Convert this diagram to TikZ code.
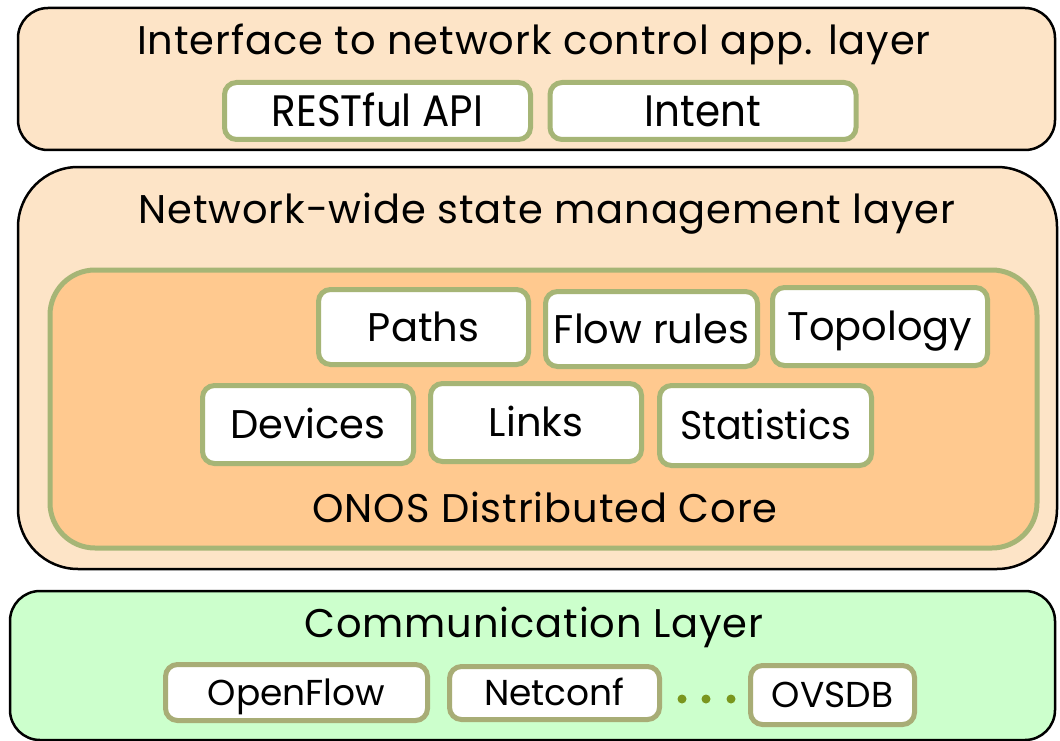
\documentclass[tikz,border=0pt]{standalone}
\usepackage{fontspec}
\setmainfont{Poppins}
\newfontfamily\titlefont[LetterSpace=2.2]{Poppins}
\definecolor{peach}{RGB}{253,228,199}
\definecolor{coreor}{RGB}{255,201,143}
\definecolor{commgr}{RGB}{204,255,204}
\definecolor{boxgr}{RGB}{166,181,118}
\definecolor{boxol}{RGB}{168,173,118}
\definecolor{dotgr}{RGB}{122,150,30}
\tikzset{
  layerbox/.style={draw=black, line width=2.5pt},
  smallbox/.style={draw=boxgr, fill=white, line width=5pt, rounded corners=12pt, inner sep=0pt,
    text height=28pt, text depth=0pt, font=\fontsize{40}{44}\selectfont},
  commbox/.style={smallbox, draw=boxol, text height=25pt, font=\fontsize{36}{40}\selectfont},
  apibox/.style={smallbox, text height=31pt, font=\fontsize{44}{48}\selectfont},
  titletext/.style={font=\titlefont\fontsize{40}{44}\selectfont, inner sep=0pt, anchor=base},
}
\begin{document}
\begin{tikzpicture}[x=1pt,y=-1pt]
\useasboundingbox (0,0) rectangle (1060,741);
% top layer
\draw[layerbox, fill=peach, rounded corners=30pt] (18,8) rectangle (1055,150);
\node[titletext] (t1) at (534,55) {Interface to network control app. layer};
\node[apibox, minimum width=306pt, minimum height=57pt] (rest) at (377.5,111) {\scalebox{0.92}[1]{RESTful API}};
\node[apibox, minimum width=306pt, minimum height=57pt] (intent) at (703,111) {\scalebox{0.92}[1]{Intent}};
% middle layer
\draw[layerbox, fill=peach, rounded corners=60pt] (18,167) rectangle (1057,569);
\node[titletext] (t2) at (547,223) {Network-wide state management layer};
\draw[draw=boxgr, line width=5pt, fill=coreor, rounded corners=45pt] (50,270) rectangle (1037,548);
\node[smallbox, minimum width=210pt, minimum height=75pt] (paths) at (423.5,327) {Paths};
\node[smallbox, minimum width=212pt, minimum height=75pt] (flow) at (651.5,329) {Flow rules};
\node[smallbox, minimum width=215pt, minimum height=78pt] (topo) at (880,326.5) {Topology};
\node[smallbox, minimum width=211pt, minimum height=78pt] (dev) at (308,424.5) {Devices};
\node[smallbox, minimum width=211pt, minimum height=78pt] (links) at (536,422.5) {Links};
\node[smallbox, minimum width=212pt, minimum height=80pt] (stats) at (765.5,425.5) {\scalebox{0.95}[1]{Statistics}};
\node[titletext] (core) at (545,522) {ONOS Distributed Core};
% bottom layer
\draw[layerbox, fill=commgr, rounded corners=30pt] (10,591) rectangle (1055,740);
\node[titletext] (t3) at (534,637) {Communication Layer};
\node[commbox, minimum width=262pt, minimum height=56pt] (of) at (296.5,692.5) {OpenFlow};
\node[commbox, minimum width=210pt, minimum height=53pt] (nc) at (554.5,693) {Netconf};
\node[commbox, minimum width=164pt, minimum height=59pt] (ovs) at (832.5,695) {OVSDB};
\foreach \xx in {682,706,731} \fill[dotgr] (\xx,699) circle (4.5pt);
\end{tikzpicture}
\end{document}
